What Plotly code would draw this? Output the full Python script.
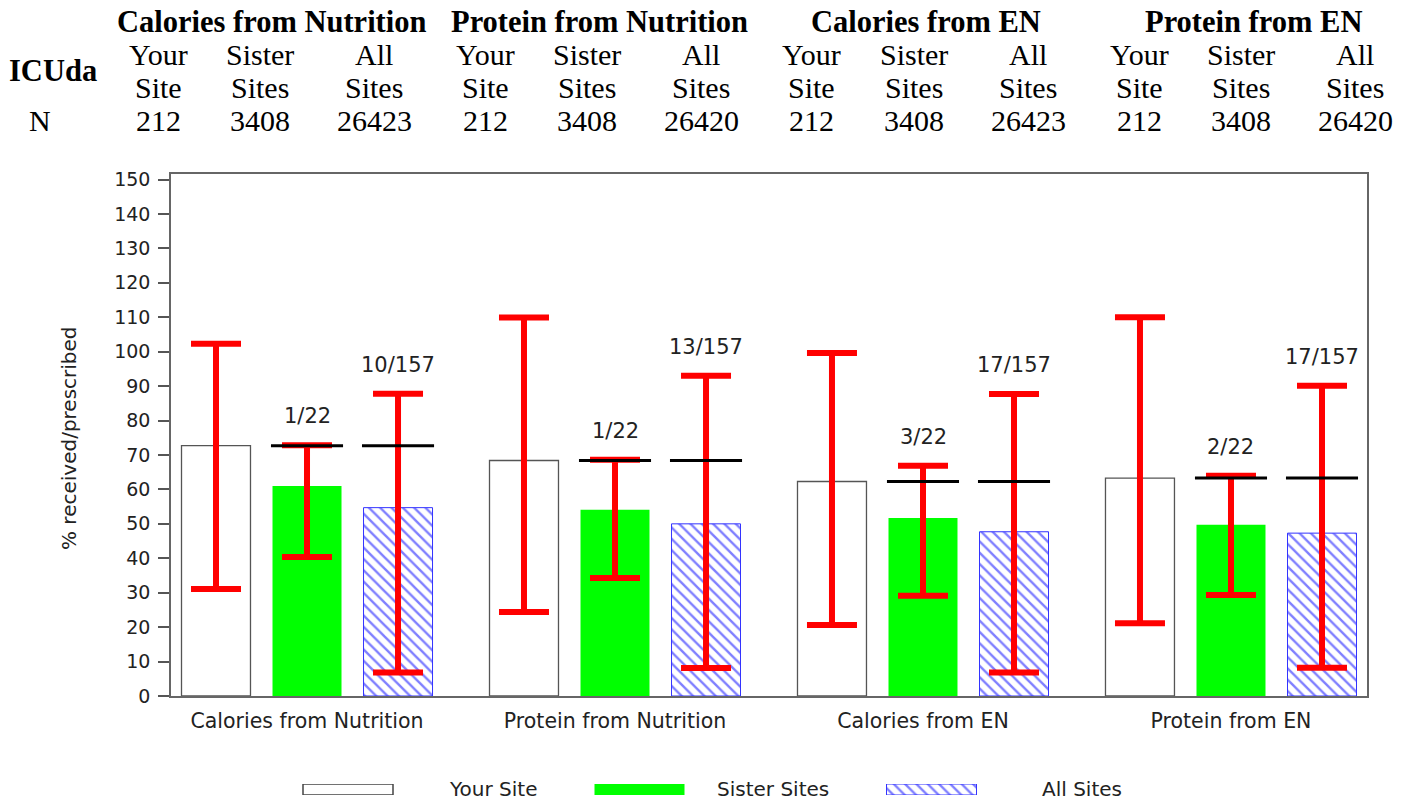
import plotly.graph_objects as go

# ---------------- data ----------------
categories = ["Calories from Nutrition", "Protein from Nutrition", "Calories from EN", "Protein from EN"]
series_names = ["Your Site", "Sister Sites", "All Sites"]

your_site = [72.7, 68.4, 62.3, 63.3]
your_hi = [102.3, 109.9, 99.6, 110.0]
your_lo = [31.1, 24.4, 20.6, 21.1]

sister_sites = [61.0, 54.1, 51.7, 49.7]
sister_hi = [72.8, 68.6, 66.9, 64.0]
sister_lo = [40.4, 34.3, 29.1, 29.3]

all_sites = [54.7, 50.0, 47.7, 47.3]
all_hi = [87.8, 93.0, 87.7, 90.1]
all_lo = [6.8, 8.1, 6.8, 8.2]

sister_rank = ["1/22", "1/22", "3/22", "2/22"]
all_rank = ["10/157", "13/157", "17/157", "17/157"]

header_site = "ICUda"
col_top = ["Your", "Sister", "All"]
col_bottom = ["Site", "Sites", "Sites"]
n_values = [[212, 3408, 26423], [212, 3408, 26420], [212, 3408, 26423], [212, 3408, 26420]]

y_ticks = list(range(0, 151, 10))

# ---------------- layout constants ----------------
W, H = 1411, 800
PL, PR, PT, PB = 171, 1367, 174, 696  # plot area in pixels
OFF = 0.2955
BW = 0.224
XR = [-0.4416, 3.4416]
YR = [0, 151.6]

def px(x):
    return x / W

def py(y):
    return 1 - y / H

SANS = "DejaVu Sans"
SERIF = "Liberation Serif"
TXT = "#222222"
HATCH = "#0000ff"

fig = go.Figure()

def bar_trace(name, vals, hi, lo, k, marker):
    xs = [g + (k - 1) * OFF for g in range(len(categories))]
    return go.Bar(
        x=xs, y=vals, width=[BW] * len(vals), name=name, marker=marker,
        error_y=dict(type="data", symmetric=False,
                     array=[h - v for h, v in zip(hi, vals)],
                     arrayminus=[v - l for v, l in zip(vals, lo)],
                     color="#ff0000", thickness=6, width=25),
        showlegend=False, xaxis="x", yaxis="y",
    )

hatch_marker = dict(color="white", line=dict(color="#3333ff", width=1),
                    pattern=dict(shape="\\", fgcolor=HATCH, bgcolor="white",
                                 size=8, solidity=0.3))

fig.add_trace(bar_trace(series_names[0], your_site, your_hi, your_lo, 0,
                        dict(color="white", line=dict(color="#555555", width=1.3))))
fig.add_trace(bar_trace(series_names[1], sister_sites, sister_hi, sister_lo, 1,
                        dict(color="#00ff00", line=dict(color="#00ff00", width=0))))
fig.add_trace(bar_trace(series_names[2], all_sites, all_hi, all_lo, 2, hatch_marker))

# reference lines (your site value) across sister & all-site bars
lx, ly = [], []
for g, v in enumerate(your_site):
    for k in (1, 2):
        c = g + (k - 1) * OFF
        lx += [c - BW / 2 - 0.005, c + BW / 2 + 0.005, None]
        ly += [v, v, None]
fig.add_trace(go.Scatter(x=lx, y=ly, mode="lines", line=dict(color="black", width=3),
                         showlegend=False, hoverinfo="skip"))

# rank labels
annotations = []
for g in range(len(categories)):
    annotations.append(dict(x=g, y=sister_hi[g], xref="x", yref="y", text=sister_rank[g],
                            showarrow=False, yanchor="middle", yshift=29,
                            font=dict(family=SANS, size=21, color=TXT)))
    annotations.append(dict(x=g + OFF, y=all_hi[g], xref="x", yref="y", text=all_rank[g],
                            showarrow=False, yanchor="middle", yshift=29,
                            font=dict(family=SANS, size=21, color=TXT)))

# header table
head_font_b = dict(family=SERIF, size=30.5, color="black")
head_font = dict(family=SERIF, size=30, color="black")
title_x = [272, 599, 926, 1253]
col_dx = [-114, -12, 102]
row_y = [22, 55, 88, 120]
for g, cat in enumerate(categories):
    annotations.append(dict(x=px(title_x[g]), y=py(row_y[0]), xref="paper", yref="paper",
                            text="<b>%s</b>" % cat, showarrow=False, xanchor="center",
                            yanchor="middle", font=head_font_b))
    for k in range(3):
        cx = px(title_x[g] + col_dx[k])
        for r, t in enumerate([col_top[k], col_bottom[k], str(n_values[g][k])]):
            annotations.append(dict(x=cx, y=py(row_y[r + 1]), xref="paper", yref="paper",
                                    text=t, showarrow=False, xanchor="center",
                                    yanchor="middle", font=head_font))
annotations.append(dict(x=px(53), y=py(71), xref="paper", yref="paper", text="<b>%s</b>" % header_site,
                        showarrow=False, xanchor="center", yanchor="middle", font=head_font_b))
annotations.append(dict(x=px(40), y=py(row_y[3]), xref="paper", yref="paper", text="N",
                        showarrow=False, xanchor="center", yanchor="middle", font=head_font))

# y-axis title
annotations.append(dict(x=px(69), y=py(438), xref="paper", yref="paper", text="% received/prescribed",
                        textangle=-90, showarrow=False, xanchor="center", yanchor="middle",
                        font=dict(family=SANS, size=20, color=TXT)))

# custom legend
leg_box_x = [348, 639.5, 931.5]
leg_txt_x = [493, 773, 1082]
legend_markers = [
    dict(color="white", line=dict(color="#444444", width=1.5)),
    dict(color="#00ff00", line=dict(color="#00ff00", width=0)),
    hatch_marker,
]
for i, nm in enumerate(series_names):
    fig.add_trace(go.Bar(x=[leg_box_x[i]], y=[1], width=[90], marker=legend_markers[i],
                         xaxis="x2", yaxis="y2", showlegend=False, hoverinfo="skip"))
    annotations.append(dict(x=px(leg_txt_x[i]), y=py(789), xref="paper", yref="paper", text=nm,
                            showarrow=False, xanchor="center", yanchor="middle",
                            font=dict(family=SANS, size=20, color=TXT)))

fig.update_layout(
    width=W, height=H,
    margin=dict(l=0, r=0, t=0, b=0, autoexpand=False),
    paper_bgcolor="white", plot_bgcolor="white",
    barmode="overlay",
    xaxis=dict(domain=[px(PL), px(PR)], range=XR, tickvals=list(range(len(categories))),
               ticktext=categories, ticks="", showgrid=False, zeroline=False,
               showline=True, linecolor="#666666", linewidth=1.5, mirror=True,
               automargin=False,
               tickfont=dict(family=SANS, size=20.5, color=TXT), ticklabelstandoff=6),
    yaxis=dict(domain=[1 - PB / H, 1 - PT / H], range=YR, tickvals=y_ticks,
               ticks="outside", ticklen=11, tickwidth=1.5, tickcolor="#555555",
               showgrid=False, zeroline=False, showline=True, linecolor="#666666",
               linewidth=1.5, mirror=True, ticklabelstandoff=4, automargin=False,
               tickfont=dict(family=SANS, size=19, color=TXT)),
    xaxis2=dict(domain=[0, 1], range=[0, W], visible=False, fixedrange=True),
    yaxis2=dict(domain=[py(795), py(784)], range=[0, 1], visible=False, fixedrange=True,
                anchor="x2"),
    annotations=annotations,
)

fig.write_html("out.html", config={"displayModeBar": False},
               post_script="document.body.style.margin='0';document.body.style.overflow='hidden';")
